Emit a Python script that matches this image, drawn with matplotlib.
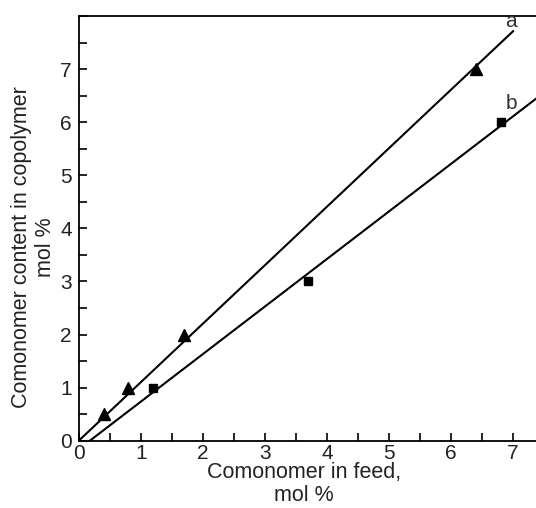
import numpy as np
import matplotlib
matplotlib.use("Agg")
import matplotlib.pyplot as plt
from matplotlib.ticker import MultipleLocator

plt.rcParams['font.family'] = ['Liberation Sans', 'DejaVu Sans']

# series a (triangles)
feed_a = [0.4, 0.8, 1.7, 6.4]
content_a = [0.5, 1.0, 2.0, 7.0]
# series b (squares)
feed_b = [1.2, 3.7, 6.8]
content_b = [1.0, 3.0, 6.0]

x_ticks = [0, 1, 2, 3, 4, 5, 6, 7]
y_ticks = [0, 1, 2, 3, 4, 5, 6, 7]

fig = plt.figure(figsize=(5.36, 5.08), dpi=100)
ax = fig.add_axes([0.147, 0.1325, 0.853, 0.836])

# fitted lines
xa = np.array(feed_a)
ya = np.array(content_a)
slope_a = (xa * ya).sum() / (xa * xa).sum()
la = np.linspace(0, 7.0, 50)
ax.plot(la, slope_a * la, color='black', lw=1.5)

kb, bb = np.polyfit(feed_b, content_b, 1)
lb = np.linspace(-bb / kb, 7.6, 50)
ax.plot(lb, kb * lb + bb, color='black', lw=1.5)

ax.plot(feed_a, content_a, '^', color='black', ms=9)
ax.plot(feed_b, content_b, 's', color='black', ms=6)

ax.text(6.97, 7.89, 'a', fontsize=15, ha='center', va='center', color='#333333')
ax.text(6.98, 6.36, 'b', fontsize=15, ha='center', va='center', color='#333333')

ax.set_xlim(0, 7.37)
ax.set_ylim(0, 8.0)
ax.set_xticks(x_ticks)
ax.set_yticks(y_ticks)
ax.xaxis.set_minor_locator(MultipleLocator(0.5))
ax.yaxis.set_minor_locator(MultipleLocator(0.5))
ax.tick_params(which='both', direction='in', length=6, width=1.2, labelsize=15,
               labelcolor='#222222')
ax.tick_params(axis='x', which='both', pad=2.5)
ax.tick_params(axis='y', which='both', pad=5)
ax.spines['right'].set_visible(False)
for s in ['left', 'bottom', 'top']:
    ax.spines[s].set_linewidth(1.3)

ax.set_xlabel('Comonomer in feed,\nmol %', fontsize=15.5, linespacing=1.15,
              color='#222222')
ax.xaxis.set_label_coords(0.492, -0.05)
ax.set_ylabel('Comonomer content in copolymer\nmol %', fontsize=15.5,
              linespacing=1.2, color='#222222')
ax.yaxis.set_label_coords(-0.0503, 0.456)

fig.savefig('out.png', dpi=100)
